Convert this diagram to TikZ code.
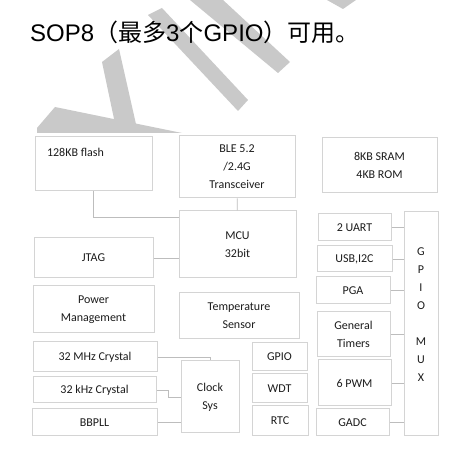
\documentclass[tikz,border=0pt]{standalone}
\usepackage{fontspec}
\setmainfont{Carlito}
\newfontfamily\titlefont{Liberation Sans}
\newfontfamily\cjk{Noto Sans CJK SC}
\definecolor{boxline}{HTML}{D4D4D4}
\definecolor{wireline}{HTML}{BDBDBD}
\definecolor{wmgray}{HTML}{C9C9C9}
\definecolor{ink}{HTML}{1C1C1C}
\begin{document}
\begin{tikzpicture}[x=1pt,y=-1pt,
  box/.style={draw=boxline,line width=1pt,inner sep=0pt,text=ink,align=center,
    font=\fontsize{12}{18}\selectfont},
  wire/.style={draw=wireline,line width=0.9pt},
  wmark/.style={fill=wmgray}]
  \useasboundingbox[fill=white] (0,0) rectangle (464,457);
  \fill[wmark] (148,15) -- (162,8) -- (248,100) -- (238,111) -- cycle;
  \fill[wmark] (190,0) -- (223,0) -- (290,62) -- (278,73) -- cycle;
  \fill[wmark] (327,0) -- (356,0) -- (343,9) -- cycle;
  \fill[wmark] (102,62) -- (119,49) -- (138,133) -- (117,133) -- cycle;
  \fill[wmark] (37,128) -- (55,107) -- (182,133) -- (37,133) -- cycle;
  \node[anchor=base west,inner sep=0pt,font=\fontsize{24}{28}\titlefont] (title) at (30,42)
    {SOP8{\cjk （最多}3{\cjk 个}GPIO{\cjk ）可用。}};
  \foreach \nm/\cx/\cy/\w/\h/\txt in {
      ble/237/167/116/62/{BLE 5.2\\/2.4G\\Transceiver},
      sram/379.5/165.5/115/55/{8KB SRAM\\4KB ROM},
      mcu/237.5/244.5/117/67/{MCU\\32bit},
      jtag/93.5/258/119/40/{JTAG},
      pwr/93.5/309.5/121/47/{Power\\Management},
      temp/239/316/120/46/{Temperature\\Sensor},
      mhz/95/357/124/30/{32 MHz Crystal},
      khz/94.5/390/123/26/{32 kHz Crystal},
      pll/94.5/422.5/125/27/{BBPLL},
      clk/210/397/58/72/{Clock\\Sys},
      gpio/279.5/357/55/28/{GPIO},
      wdt/279.5/388.5/55/29/{WDT},
      rtc/280/421/56/30/{RTC},
      uart/354.5/227.5/73/27/{2 UART},
      usb/354.5/259/75/26/{USB,I2C},
      pga/353/290.5/74/27/{PGA},
      tmr/353.5/334.5/73/45/{General\\Timers},
      pwm/354.5/383/73/46/{6 PWM},
      adc/352.5/422.5/73/27/{GADC},
      mux/421/324/34/224/{}}
    \node[box,minimum width=\w,minimum height=\h] (\nm) at (\cx,\cy) {\txt};
  \node[box,minimum width=117,minimum height=54,
    label={[anchor=north west,text=ink,font=\fontsize{12}{18}\selectfont,xshift=9pt,yshift=-8pt]north west:128KB flash}]
    (flash) at (93.5,164) {};
  \node[text=ink,align=center,inner sep=0pt,font=\fontsize{12}{18}\selectfont] (muxlbl) at (421,314.5)
    {G\\P\\I\\O\\[18pt]M\\U\\X};
  \draw[wire] (flash.south) |- ([yshift=-7pt]mcu.north west);
  \draw[wire] (ble) -- (mcu);
  \draw[wire] (jtag.east) -- (jtag.east -| mcu.west);
  \foreach \b in {uart,usb,pga,tmr,pwm,adc}{\draw[wire] (\b.east) -- (\b.east -| mux.west);}
  \draw[wire] (mhz.east) -| (clk.north);
  \draw[wire] (khz.east) -- ++(12,0) |- (clk.west);
  \draw[wire] (pll.east) -- (pll.east -| clk.west);
\end{tikzpicture}
\end{document}
